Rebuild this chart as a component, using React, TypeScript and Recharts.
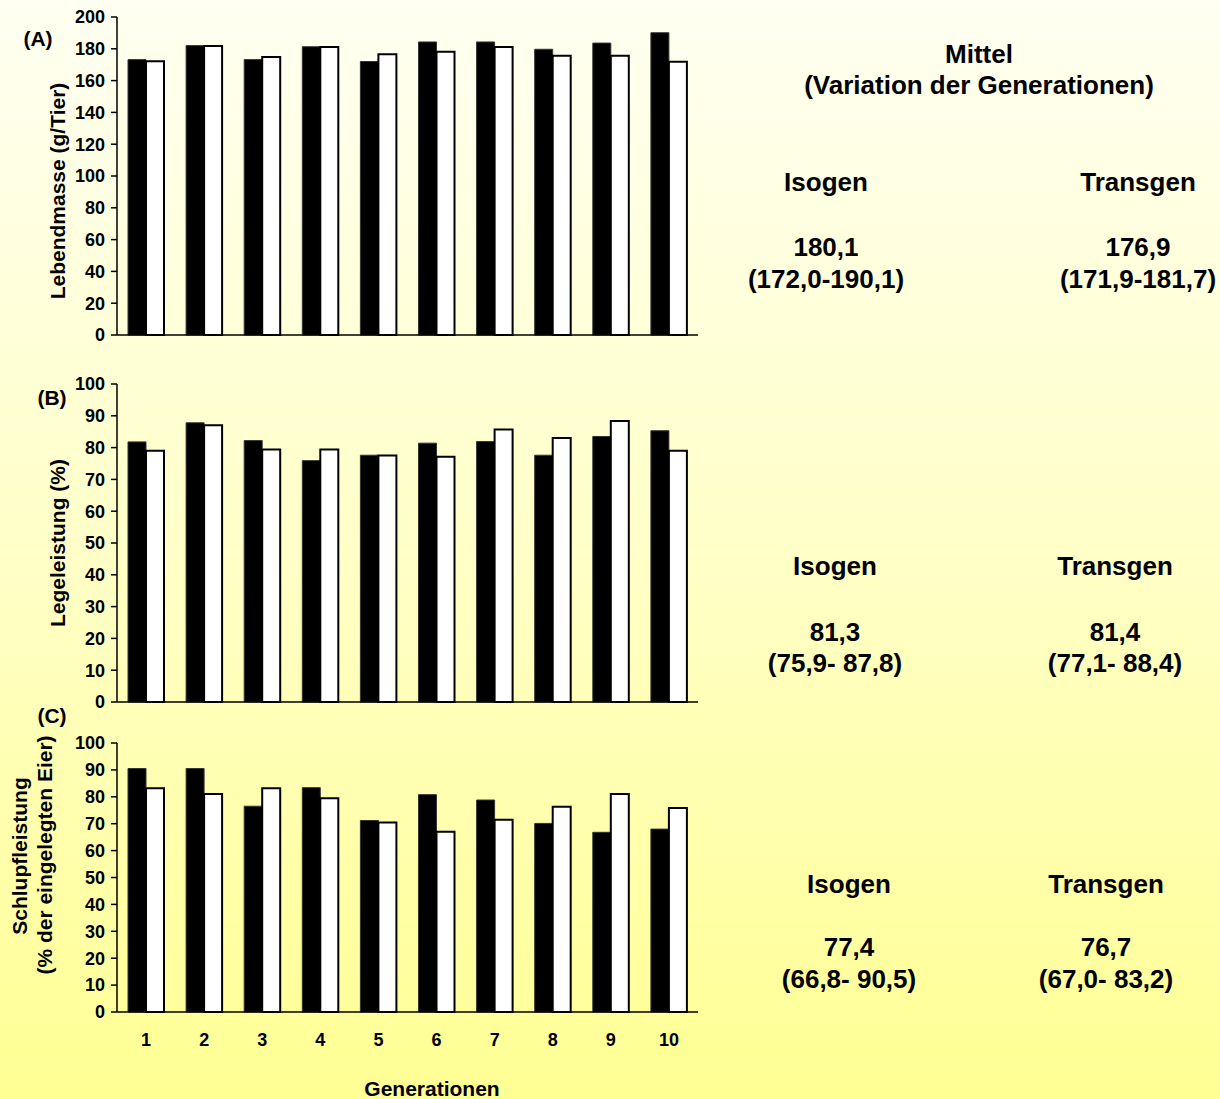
import { Bar, BarChart, XAxis, YAxis } from 'recharts'

const generations = ['1', '2', '3', '4', '5', '6', '7', '8', '9', '10']

// (A) Lebendmasse g/Tier
const massIsogen = [173.2, 182, 173.2, 181.3, 172.0, 184.3, 184.3, 179.7, 183.6, 190.1]
const massTransgen = [172.2, 181.7, 174.8, 181.1, 176.6, 178.2, 181.2, 175.6, 175.6, 171.9]

// (B) Legeleistung %
const layIsogen = [81.8, 87.8, 82.2, 75.9, 77.6, 81.4, 81.9, 77.6, 83.5, 85.3]
const layTransgen = [79.0, 87.0, 79.4, 79.4, 77.5, 77.1, 85.7, 83.0, 88.4, 79.0]

// (C) Schlupfleistung %
const hatchIsogen = [90.5, 90.5, 76.5, 83.4, 71.2, 80.8, 78.8, 70.1, 66.8, 68.0]
const hatchTransgen = [83.2, 81.0, 83.2, 79.5, 70.4, 67.0, 71.5, 76.3, 81.0, 75.8]

const massTicks = [0, 20, 40, 60, 80, 100, 120, 140, 160, 180, 200]
const pctTicks = [0, 10, 20, 30, 40, 50, 60, 70, 80, 90, 100]

// Mittel (Variation der Generationen) texts
const meanIsogen = ['180,1', '81,3', '77,4']
const rangeIsogen = ['(172,0-190,1)', '(75,9- 87,8)', '(66,8- 90,5)']
const meanTransgen = ['176,9', '81,4', '76,7']
const rangeTransgen = ['(171,9-181,7)', '(77,1- 88,4)', '(67,0- 83,2)']

const FONT = '"Liberation Sans", Arial, Helvetica, sans-serif'

const toRows = (iso: number[], trans: number[]) =>
    generations.map((g, i) => ({ gen: g, isogen: iso[i], transgen: trans[i] }))

interface PanelProps {
    top: number
    height: number
    marginTop: number
    marginBottom: number
    xHeight: number
    showX: boolean
    max: number
    ticks: number[]
    data: { gen: string; isogen: number; transgen: number }[]
}

function Panel({ top, height, marginTop, marginBottom, xHeight, showX, max, ticks, data }: PanelProps) {
    return (
        <div style={{ position: 'absolute', left: 0, top }}>
            <BarChart
                width={700}
                height={height}
                data={data}
                margin={{ top: marginTop, right: 2, bottom: marginBottom, left: 57 }}
                barGap={0}
            >
                <XAxis
                    dataKey='gen'
                    height={xHeight}
                    axisLine={{ stroke: '#000', strokeWidth: 1.5 }}
                    tickLine={false}
                    tickSize={0}
                    tickMargin={21}
                    tick={showX ? { fill: '#000', fontSize: 18, fontWeight: 'bold', fontFamily: FONT } : false}
                    interval={0}
                />
                <YAxis
                    width={60}
                    domain={[0, max]}
                    ticks={ticks}
                    interval={0}
                    axisLine={{ stroke: '#000', strokeWidth: 1.5 }}
                    tickLine={{ stroke: '#000', strokeWidth: 1.5 }}
                    tickSize={6}
                    tickMargin={6}
                    tick={{ fill: '#000', fontSize: 18, fontWeight: 'bold', fontFamily: FONT }}
                />
                <Bar dataKey='isogen' fill='#000' stroke='#333' strokeWidth={1} barSize={18} isAnimationActive={false} />
                <Bar
                    dataKey='transgen'
                    fill='#fff'
                    stroke='#000'
                    strokeWidth={2}
                    barSize={18}
                    isAnimationActive={false}
                />
            </BarChart>
        </div>
    )
}

const bold = { fontFamily: FONT, fontWeight: 'bold' as const, fill: '#000' }

export default function App() {
    const rightCols = [
        { isoX: 826, transX: 1138, headY: 191, meanY: 256, rangeY: 288 },
        { isoX: 835, transX: 1115, headY: 575, meanY: 641, rangeY: 672 },
        { isoX: 849, transX: 1106, headY: 893, meanY: 956, rangeY: 988 },
    ]
    return (
        <div
            style={{
                position: 'absolute',
                left: 0,
                top: 0,
                width: 1220,
                height: 1099,
                overflow: 'hidden',
                background: 'linear-gradient(to bottom, #fffff2 0%, #ffffc8 50%, #ffff94 100%)',
            }}
        >
            <Panel top={0} height={346} marginTop={17} marginBottom={10} xHeight={1} showX={false}
                max={200} ticks={massTicks} data={toRows(massIsogen, massTransgen)} />
            <Panel top={370} height={343} marginTop={14} marginBottom={10} xHeight={1} showX={false}
                max={100} ticks={pctTicks} data={toRows(layIsogen, layTransgen)} />
            <Panel top={720} height={332} marginTop={23} marginBottom={0} xHeight={40} showX={true}
                max={100} ticks={pctTicks} data={toRows(hatchIsogen, hatchTransgen)} />

            <svg width={1220} height={1099} style={{ position: 'absolute', left: 0, top: 0, pointerEvents: 'none' }}>
                <text x={38} y={46} fontSize={21} textAnchor='middle' {...bold}>(A)</text>
                <text x={52} y={405} fontSize={21} textAnchor='middle' {...bold}>(B)</text>
                <text x={52} y={723} fontSize={21} textAnchor='middle' {...bold}>(C)</text>

                <text transform='translate(65,191) rotate(-90)' fontSize={21} textAnchor='middle' {...bold}>
                    Lebendmasse (g/Tier)
                </text>
                <text transform='translate(65,543) rotate(-90)' fontSize={21} textAnchor='middle' {...bold}>
                    Legeleistung (%)
                </text>
                <text transform='translate(27,856) rotate(-90)' fontSize={21} textAnchor='middle' {...bold}>
                    Schlupfleistung
                </text>
                <text transform='translate(52,855) rotate(-90)' fontSize={21} textAnchor='middle' {...bold}>
                    (% der eingelegten Eier)
                </text>

                <text x={432} y={1096} fontSize={21} textAnchor='middle' {...bold}>Generationen</text>

                <text x={979} y={63} fontSize={26} textAnchor='middle' {...bold}>Mittel</text>
                <text x={979} y={94} fontSize={26} textAnchor='middle' {...bold}>(Variation der Generationen)</text>

                {rightCols.map((c, i) => (
                    <g key={i}>
                        <text x={c.isoX} y={c.headY} fontSize={26} textAnchor='middle' {...bold}>Isogen</text>
                        <text x={c.transX} y={c.headY} fontSize={26} textAnchor='middle' {...bold}>Transgen</text>
                        <text x={c.isoX} y={c.meanY} fontSize={26} textAnchor='middle' {...bold}>{meanIsogen[i]}</text>
                        <text x={c.isoX} y={c.rangeY} fontSize={26} textAnchor='middle' {...bold}>{rangeIsogen[i]}</text>
                        <text x={c.transX} y={c.meanY} fontSize={26} textAnchor='middle' {...bold}>{meanTransgen[i]}</text>
                        <text x={c.transX} y={c.rangeY} fontSize={26} textAnchor='middle' {...bold}>{rangeTransgen[i]}</text>
                    </g>
                ))}
            </svg>
        </div>
    )
}
